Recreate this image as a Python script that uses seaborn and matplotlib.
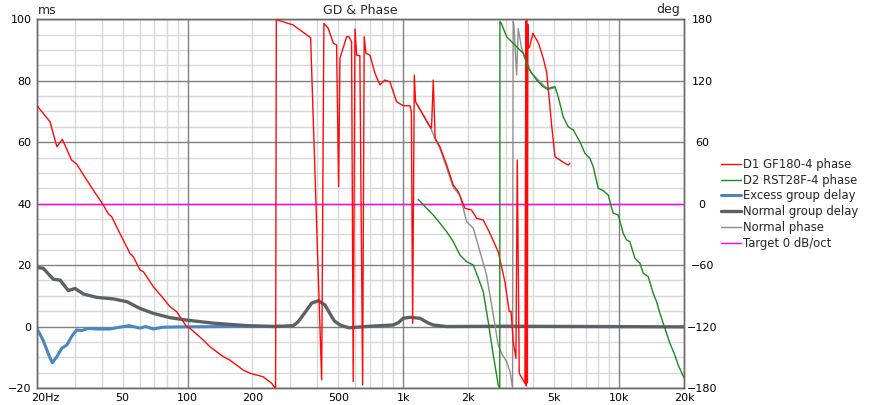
import numpy as np
import matplotlib
matplotlib.use('Agg')
import matplotlib.pyplot as plt
import matplotlib.transforms as mtransforms
from matplotlib.ticker import FixedLocator
import seaborn as sns

# ---- data ----
# D1 GF180-4 phase (Hz, deg)
d1_freq = [20, 23.05, 24.8, 26.3, 29.0, 30.6, 34.1, 36.6, 40.7, 43.0, 44.5, 48.6, 54.1, 56.1, 60.2,
           62.4, 69.4, 77.2, 82.9, 89.1, 99, 102.7, 118, 127, 146.5, 157, 181, 194.6, 224, 245.5, 254,
           256, 258, 262, 309, 372, 418.5, 428.6, 449, 474, 490.7, 501.6, 508.7, 546.4, 560, 576,
           586, 597, 608, 629, 648, 659, 671, 701, 739, 780, 821, 867, 931, 1000, 1074, 1090, 1105,
           1125, 1140, 1237, 1329, 1352, 1377, 1405, 1479, 1589, 1704, 1799, 1931, 2073, 2187, 2348,
           2521, 2754, 2958, 3098, 3160, 3232, 3327, 3375, 3447, 3662, 3700, 3715, 3730, 3760, 3780,
           3798, 3850, 3989, 4236, 4452, 4613, 4745, 4870, 5044, 5320, 5610, 5810, 5918]
d1_phase = [96, 80, 55.6, 62.8, 42.6, 38.7, 23.1, 13.3, -1.3, -10.1, -12.7, -29, -48.5, -51.8, -64.8,
            -66.4, -81, -92.4, -100.6, -105.5, -120.1, -121.7, -133, -139.7, -149.4, -152.7, -162.4,
            -165.6, -169, -175.4, -179.7, -180, 180, 179.3, 174.4, 162, -172, 176, 171.2, 156.6, 155,
            16.5, 141.9, 163, 163, 158, -173.8, 170.5, 145, 144.5, -177, 163, 146.8, 145, 127.3,
            115.9, 120.7, 119, 99.5, 95.6, 95.6, 90, -116.8, 125.6, 99.5, 86.6, 75.1, 73.6, 120.7,
            63.8, 55.6, 37.7, 18.2, 11.7, -4.5, -6.2, -14.3, -16, -29, -47, -76.2, -105.5, -105,
            -134.8, -151, 42.6, -165.6, -175.4, 178, -178, 179.4, -175, 175, 151.7, 153, 166.3,
            156.6, 142, 128.8, 102.9, 76.8, 45.8, 42.6, 39.4, 37.7, 39.4]

# D2 RST28F-4 phase (Hz, deg)
d2_freq = [1173, 1282, 1377, 1479, 1589, 1704, 1830, 1966, 2110, 2228, 2348, 2476, 2612, 2754,
           2800, 2805, 2848, 3013, 3352, 3597, 3798, 4150, 4452, 4696, 4782, 5044, 5224, 5508,
           5810, 6133, 6586, 6948, 7330, 7592, 8008, 8446, 8912, 9236, 9397, 9910, 10455, 10840,
           11220, 11845, 12500, 12950, 13650, 14390, 14930, 15460, 16310, 17210, 18130, 18790, 20000]
d2_phase = [4.3, -4.5, -11.1, -19, -27.4, -37, -50.1, -56.7, -59.9, -72.9, -86, -115.3, -147.8, -177,
            -180, 178, 176, 163, 153.2, 146.8, 132.2, 120.7, 114.2, 111, 113, 114.2, 104.4, 84.9,
            75.1, 72, 60.5, 49.2, 44.3, 36, 15, 12.7, 8.4, -4, -9.4, -11, -28.9, -35.5,
            -37.1, -53.4, -58.2, -68, -71.3, -87.5, -95.7, -107, -121.7, -136.4, -147.8, -157.5, -170]

# Normal phase (Hz, deg)
np_freq = [1150, 1237, 1329, 1352, 1405, 1479, 1589, 1704, 1831, 1966, 2110, 2244, 2432, 2612,
           2754, 2848, 3013, 3125, 3210, 3230, 3257, 3352, 3410, 3535, 3730, 3934, 4150, 4535,
           4800, 5000]
np_phase = [98, 86.6, 75.1, 72, 63, 54, 35, 16, 8, -17.6, -24, -43.6, -69.7, -108.7,
            -138, -146, -154.3, -164, -180, 178, 174.4, 125.6, 171, 151.7, 138.6, 127.3, 122.4, 114.2,
            112, 113]

# Normal group delay (Hz, ms)
ngd_freq = [20, 21.4, 23.9, 25.7, 28.0, 30.1, 32.9, 37.9, 45.3, 52.3, 60.2, 69.4, 82.9, 99, 131.8,
            188, 254, 309, 325, 344, 376, 404, 434, 466, 480, 509, 560, 701, 898, 950, 1000, 1074,
            1194, 1300, 1377, 1589, 3000, 20000]
ngd_ms = [19.2, 19.0, 15.4, 15.1, 11.7, 12.4, 10.6, 9.5, 9.0, 8.1, 5.9, 4.3, 2.9, 2.1, 1.1,
          0.3, 0.0, 0.3, 1.5, 3.8, 7.6, 8.4, 7.0, 3.2, 1.8, 0.5, -0.4, 0.1, 0.5, 1.3, 2.7, 3.0,
          2.7, 1.2, 0.5, 0.0, 0.1, -0.1]

# Excess group delay (Hz, ms)
egd_freq = [20, 21.4, 22.6, 23.6, 24.8, 26.1, 27.6, 29.0, 30.6, 32.3, 34.7, 37.9, 43.7, 48.6, 53.5,
            60.2, 64, 69.4, 77.2, 92.5, 150, 270]
egd_ms = [-0.5, -4.4, -8.7, -11.8, -9.8, -7.1, -6.0, -3.3, -1.1, -1.3, -0.6, -0.8, -0.8, -0.2, 0.3,
          -0.5, 0.0, -0.8, -0.2, -0.1, 0.0, 0.1]

# Target 0 dB/oct (Hz, deg)
tgt_freq = [20, 20000]
tgt_phase = [0, 0]

x_ticks = [20, 50, 100, 200, 500, 1000, 2000, 5000, 10000, 20000]
x_labels = ['20Hz', '50', '100', '200', '500', '1k', '2k', '5k', '10k', '20k']
ms_ticks = [-20, 0, 20, 40, 60, 80, 100]
deg_ticks = [-180, -120, -60, 0, 60, 120, 180]

sns.set_style('white')
plt.rcParams['font.family'] = ['DejaVu Sans']

W, H = 876, 405
fig = plt.figure(figsize=(W / 100, H / 100), dpi=100)
L, R, T, B = 36.7, 684, 19.3, 388
ax = fig.add_axes([L / W, 1 - B / H, (R - L) / W, (B - T) / H])
ax.set_xscale('log')
ax2 = ax.twinx()

lkw = dict(estimator=None, sort=False)
sns.lineplot(x=d1_freq, y=d1_phase, ax=ax2, color='#ff0a0a', lw=1.0, label='D1 GF180-4 phase', zorder=3, **lkw)
sns.lineplot(x=d2_freq, y=d2_phase, ax=ax2, color='#1b8a1b', lw=1.0, label='D2 RST28F-4 phase', zorder=3, **lkw)
sns.lineplot(x=egd_freq, y=egd_ms, ax=ax, color='#4a86bf', lw=2.2, label='Excess group delay', zorder=3, **lkw)
sns.lineplot(x=ngd_freq, y=ngd_ms, ax=ax, color='#5d6167', lw=2.4, label='Normal group delay', zorder=4, **lkw)
sns.lineplot(x=np_freq, y=np_phase, ax=ax2, color='#8e8e8e', lw=1.0, label='Normal phase', zorder=2, **lkw)
sns.lineplot(x=tgt_freq, y=tgt_phase, ax=ax2, color='#ff00ff', lw=1.0, label='Target 0 dB/oct', zorder=2, **lkw)

for a in (ax, ax2):
    if a.get_legend() is not None:
        a.get_legend().remove()
    a.set_xlabel('')
    a.set_ylabel('')

ax.set_xlim(20, 20000)
ax.set_ylim(-20, 100)
ax2.set_ylim(-180, 180)

# grid
minor_x = [m * 10 ** e for e in range(1, 5) for m in range(2, 10) if 20 <= m * 10 ** e <= 20000]
ax.xaxis.remove_overlapping_locs = False
ax.xaxis.set_major_locator(FixedLocator(x_ticks))
ax.xaxis.set_minor_locator(FixedLocator(minor_x))
ax.set_xticklabels(x_labels)
ax.xaxis.set_minor_formatter(plt.NullFormatter())
ax.set_yticks(ms_ticks)
ax.set_yticks(np.arange(-20, 101, 5), minor=True)
ax.grid(which='minor', color='#d8d8d8', lw=1.0)
ax.grid(which='major', axis='y', color='#808080', lw=1.0)
for d in [100, 1000, 10000]:
    ax.axvline(d, color='#808080', lw=1.0, zorder=1)
ax.set_axisbelow(True)

ax2.set_yticks(deg_ticks)
ax2.grid(False)

ax.tick_params(which='both', length=0, labelsize=8, colors='black')
ax.tick_params(axis='x', pad=3.5)
ax.tick_params(axis='y', pad=3.6)
ax2.tick_params(which='both', length=0, labelsize=8, colors='black', pad=13)
for lbl in ax2.get_yticklabels():
    lbl.set_horizontalalignment('center')

# "20Hz": the number sits on the axis edge, the unit hangs to the right
first = ax.xaxis.get_major_ticks()[0].label1
first.set_transform(first.get_transform() + mtransforms.ScaledTranslation(8.3 / 100, 0, fig.dpi_scale_trans))

for a in (ax, ax2):
    for s in a.spines.values():
        s.set_color('#6a6a6a')
        s.set_linewidth(1.0)

fig.text((L + R) / 2 / W, 1 - 10.5 / H, 'GD & Phase', ha='center', va='center', fontsize=9)
fig.text(38 / W, 1 - 10 / H, 'ms', ha='left', va='center', fontsize=9)
fig.text(680 / W, 1 - 10 / H, 'deg', ha='right', va='center', fontsize=9)

h1, l1 = ax.get_legend_handles_labels()
h2, l2 = ax2.get_legend_handles_labels()
hd = dict(zip(l1 + l2, h1 + h2))
order = ['D1 GF180-4 phase', 'D2 RST28F-4 phase', 'Excess group delay',
         'Normal group delay', 'Normal phase', 'Target 0 dB/oct']
fig.legend([hd[k] for k in order], order, loc='upper left',
           bbox_to_anchor=(715 / W, 1 - 152 / H), frameon=False, fontsize=8.4,
           handlelength=1.7, handletextpad=0.2, labelspacing=0.24, borderpad=0)

fig.savefig('out.png', dpi=100)
